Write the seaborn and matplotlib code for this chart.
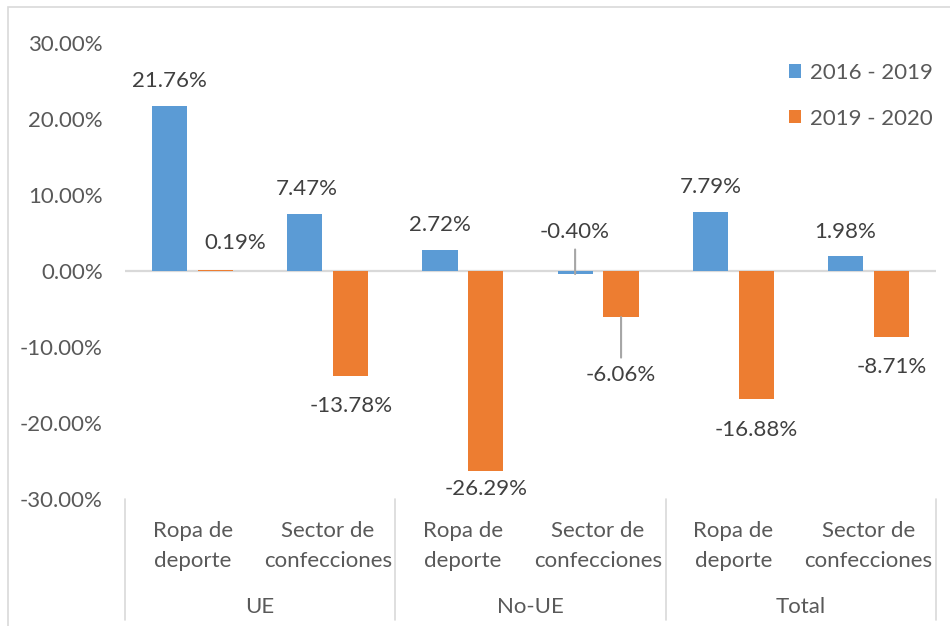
import matplotlib
matplotlib.use("Agg")
import matplotlib.pyplot as plt
import seaborn as sns
import pandas as pd
from matplotlib.patches import Patch, Rectangle
from matplotlib.lines import Line2D
from matplotlib.ticker import FuncFormatter

# ---- data ----
groups = ["UE", "No-UE", "Total"]
subcats = ["Ropa de\ndeporte", "Sector de\nconfecciones"]
series = ["2016 - 2019", "2019 - 2020"]
vals_2016_2019 = [21.76, 7.47, 2.72, -0.40, 7.79, 1.98]
vals_2019_2020 = [0.19, -13.78, -26.29, -6.06, -16.88, -8.71]
yticks = [-30, -20, -10, 0, 10, 20, 30]

# ---- styles ----
BLUE = "#5B9BD5"
ORANGE = "#ED7D31"
GRID = "#D9D9D9"
TICK_C = "#595959"
LAB_C = "#404040"
FS = 16
# label offsets in pixels (dx, dy) and leader-line flags
offs = [
    [(0, 25), (2, 25), (0, 25), (0, 42), (0, 25), (0, 24)],
    [(20, 27), (0, -30), (0, -18), (0, -58), (0, -31), (0, -30)],
]
leaders = [
    [False, False, False, True, False, False],
    [False, False, False, True, False, False],
]

cats = [f"{g}|{s}" for g in groups for s in subcats]
rows = []
for sname, vals in zip(series, [vals_2016_2019, vals_2019_2020]):
    for c, v in zip(cats, vals):
        rows.append({"cat": c, "serie": sname, "val": v})
df = pd.DataFrame(rows)

sns.set_style("white")
plt.rcParams["font.family"] = ["Lato", "DejaVu Sans"]

W, H = 950, 626
fig = plt.figure(figsize=(W / 100, H / 100), dpi=100)
ax = fig.add_axes([125 / W, 1 - 499 / H, (936 - 125) / W, 456 / H])

sns.barplot(data=df, x="cat", y="val", hue="serie", order=cats, hue_order=series,
            palette=[BLUE, ORANGE], width=0.68, gap=0.235, saturation=1,
            legend=False, ax=ax, edgecolor="none", errorbar=None, zorder=3)

ax.set_xlim(-0.5, len(cats) - 0.5)
ax.set_ylim(yticks[0], yticks[-1])
ax.set_yticks(yticks)
ax.yaxis.set_major_formatter(FuncFormatter(lambda v, p: f"{v:.2f}%"))
ax.tick_params(axis="y", length=0, pad=16, labelsize=FS, labelcolor=TICK_C)
ax.set_xticks([])
ax.set_xlabel("")
ax.set_ylabel("")
for sp in ax.spines.values():
    sp.set_visible(False)
ax.axhline(0, color=GRID, lw=1.6, zorder=2)

# data labels
for si, cont in enumerate(ax.containers):
    vals = [vals_2016_2019, vals_2019_2020][si]
    for bi, bar in enumerate(cont):
        v = vals[bi]
        xc = bar.get_x() + bar.get_width() / 2
        dx, dy = offs[si][bi]
        kw = {}
        if leaders[si][bi]:
            kw["arrowprops"] = dict(arrowstyle="-", color="#A6A6A6", lw=1.5,
                                    shrinkA=3, shrinkB=0)
        ax.annotate(f"{v:.2f}%", xy=(xc, v), xytext=(dx, dy),
                    textcoords="offset pixels", ha="center", va="center",
                    fontsize=FS, color=LAB_C, zorder=5, **kw)

# multi-level category axis
xt = ax.get_xaxis_transform()
for i, c in enumerate(cats):
    ax.text(i, -0.104, subcats[i % 2], transform=xt, ha="center", va="center",
            fontsize=FS, color=TICK_C, linespacing=1.62)
for gi, g in enumerate(groups):
    ax.text(2 * gi + 0.5, -0.2365, g, transform=xt, ha="center", va="center",
            fontsize=FS, color=TICK_C)
for xb in [-0.5, 1.5, 3.5, 5.5]:
    ax.add_line(Line2D([xb, xb], [0, -0.265], transform=xt, color=GRID, lw=1.2,
                       clip_on=False))

# legend
handles = [Patch(facecolor=BLUE, edgecolor="none"), Patch(facecolor=ORANGE, edgecolor="none")]
fig.legend(handles, series, loc="upper left", bbox_to_anchor=(789 / W, 1 - 63 / H),
           frameon=False, fontsize=FS, handlelength=0.55, handleheight=0.55,
           handletextpad=0.4, labelspacing=1.15, borderpad=0, borderaxespad=0,
           labelcolor=TICK_C)

# chart frame
fig.patches.append(Rectangle((8 / W, -0.1), 1.2, 1.1 - 6.5 / H, transform=fig.transFigure,
                             fill=False, edgecolor=GRID, lw=1.2))

fig.savefig("out.png", dpi=100)
